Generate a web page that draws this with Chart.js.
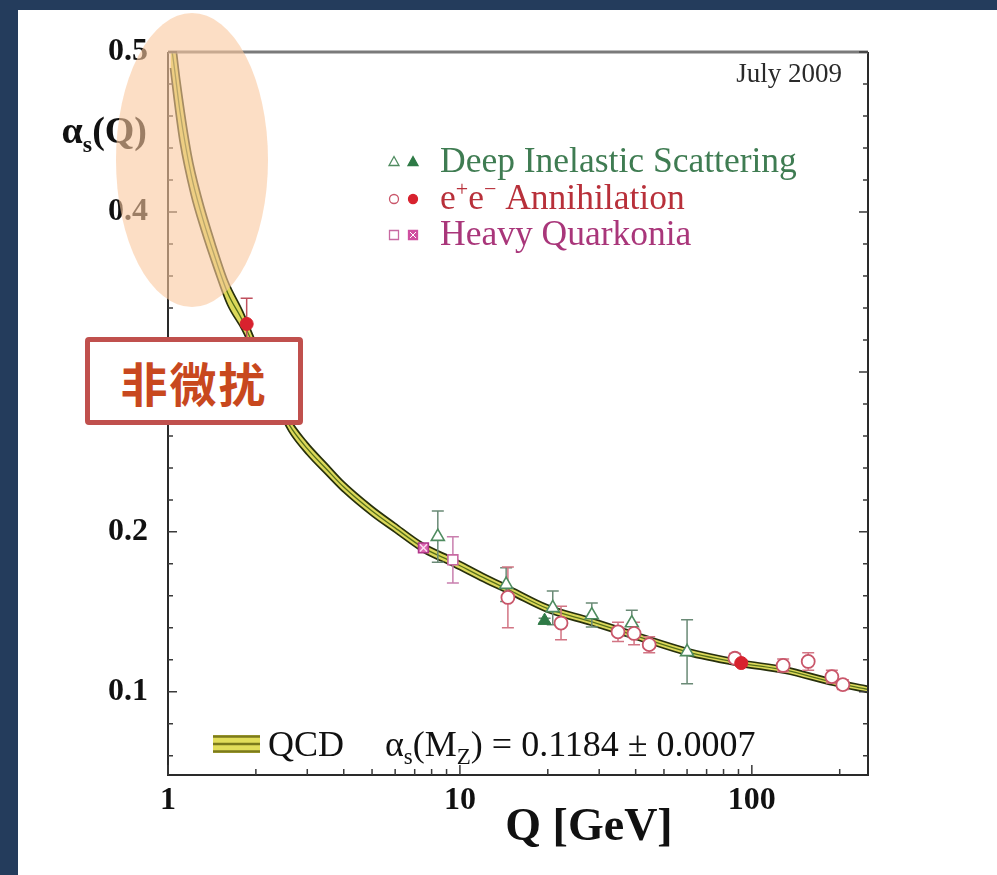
<!DOCTYPE html>
<html>
<head>
<meta charset="utf-8">
<script src="https://cdn.jsdelivr.net/npm/chart.js@4.4.1/dist/chart.umd.min.js"></script>
<style>
  html, body { margin: 0; padding: 0; width: 997px; height: 875px; overflow: hidden; background: #243c5c; }
  #panel { position: absolute; left: 18px; top: 10px; width: 979px; height: 865px; background: #ffffff; }
  #c { position: absolute; left: 0; top: 0; }
  #blob { position: absolute; left: 116px; top: 13px; width: 152px; height: 294px; border-radius: 50%;
          background: rgba(250, 200, 158, 0.6); }
  #tag { position: absolute; left: 85px; top: 337px; width: 208px; height: 78px;
         border: 5px solid #c0504d; border-radius: 4px; background: #ffffff;
         display: flex; align-items: center; justify-content: center;
         font: bold 47px "Noto Sans CJK SC", sans-serif; color: #c8481e; letter-spacing: 2px; }
</style>
</head>
<body>
<div id="panel"></div>
<canvas id="c" width="997" height="875"></canvas>
<div id="blob"></div>
<div id="tag">非微扰</div>
<script>
// QCD running coupling band: centre line and upper / lower edges
const bandQ   = [1.02, 1.05, 1.1, 1.2, 1.3, 1.45, 1.6, 1.8, 2.0, 2.3, 2.6, 3.0, 3.5, 4.0, 5.0, 6.0, 7.5, 9.5, 12, 15, 20, 28, 40, 60, 91.2, 130, 190, 250];
const bandMid = [0.5075, 0.491, 0.4625, 0.4235, 0.399, 0.3715, 0.3495, 0.332, 0.313, 0.287, 0.267, 0.252, 0.239, 0.228, 0.213, 0.2025, 0.190, 0.181, 0.1715, 0.163, 0.152, 0.144, 0.135, 0.125, 0.118, 0.1135, 0.106, 0.1015];
const bandHi  = [0.525, 0.511, 0.481, 0.436, 0.409, 0.380, 0.357, 0.338, 0.3182, 0.2916, 0.2712, 0.2558, 0.2425, 0.2312, 0.216, 0.2053, 0.1927, 0.1836, 0.174, 0.1654, 0.1543, 0.1462, 0.1371, 0.1271, 0.1199, 0.1154, 0.1079, 0.1034];
const bandLo  = [0.490, 0.471, 0.444, 0.411, 0.389, 0.363, 0.342, 0.326, 0.3078, 0.2824, 0.2628, 0.2482, 0.2355, 0.2248, 0.210, 0.1997, 0.1873, 0.1784, 0.169, 0.1606, 0.1497, 0.1418, 0.1329, 0.1229, 0.1161, 0.1116, 0.1041, 0.0996];

// Deep inelastic scattering
const disOpenQ   = [8.4, 14.4, 20.8, 28.3, 38.8, 60];
const disOpenA   = [0.197, 0.167, 0.1525, 0.148, 0.143, 0.125];
const disOpenErr = [0.016, 0.0105, 0.0105, 0.0075, 0.008, 0.02];
const disFullQ   = [19.5];
const disFullA   = [0.1445];
const disFullErr = [0.0015];

// e+e- annihilation
const eeOpenQ   = [14.6, 22.2, 34.8, 39.5, 44.5, 87.5, 128, 156, 188, 205];
const eeOpenA   = [0.159, 0.143, 0.1375, 0.1365, 0.1295, 0.121, 0.1165, 0.119, 0.1095, 0.1045];
const eeOpenErr = [0.019, 0.0105, 0.006, 0.007, 0.005, 0.003, 0.004, 0.0055, 0.004, 0.003];
const eeFullQ     = [1.86, 92];
const eeFullA     = [0.330, 0.118];
const eeFullErrUp = [0.016, 0.002];
const eeFullErrDn = [0.012, 0.002];

// Heavy quarkonia
const hqOpenQ   = [9.46];
const hqOpenA   = [0.1825];
const hqOpenErr = [0.0145];
const hqCrossQ  = [7.5];
const hqCrossA  = [0.190];

// Axis ticks
const xTickValues = [1, 10, 100];
const xTickLabels = ['1', '10', '100'];
const xMinorTicks = [2, 3, 4, 5, 6, 7, 8, 9, 20, 30, 40, 50, 60, 70, 80, 90, 200];
const yTickValues = [0.1, 0.2, 0.3, 0.4, 0.5];
const yTickLabels = ['0.1', '0.2', '0.3', '0.4', '0.5'];
const yMinorTicks = [0.06, 0.08, 0.12, 0.14, 0.16, 0.18, 0.22, 0.24, 0.26, 0.28, 0.32, 0.34, 0.36, 0.38, 0.42, 0.44, 0.46, 0.48];

const SERIF = '"Liberation Serif", "Times New Roman", serif';
const GREEN = '#3f7c52', RED = '#b8303a', MAGENTA = '#a9367a';

const pts = (qs, as) => qs.map((q, i) => ({ x: q, y: as[i] }));

const errorSets = [
  { q: disOpenQ, a: disOpenA, up: disOpenErr, dn: disOpenErr, color: '#6a8a76' },
  { q: disFullQ, a: disFullA, up: disFullErr, dn: disFullErr, color: '#6a8a76' },
  { q: eeOpenQ,  a: eeOpenA,  up: eeOpenErr,  dn: eeOpenErr,  color: '#d27584' },
  { q: eeFullQ,  a: eeFullA,  up: eeFullErrUp, dn: eeFullErrDn, color: '#c0505e' },
  { q: hqOpenQ,  a: hqOpenA,  up: hqOpenErr,  dn: hqOpenErr,  color: '#c97fae' }
];

const IDX_MID = 7;

const datasets = [
  { data: pts(hqCrossQ, hqCrossA), pointStyle: 'crossRot', pointRadius: 5, borderColor: '#fbe0f0', borderWidth: 1.4, backgroundColor: 'transparent' },
  { data: pts(hqCrossQ, hqCrossA), pointStyle: 'rect', pointRadius: 7, backgroundColor: '#dd66b0', borderColor: '#b0388a', borderWidth: 1.5 },
  { data: pts(hqOpenQ, hqOpenA), pointStyle: 'rect', pointRadius: 7, backgroundColor: '#ffffff', borderColor: '#c86aa2', borderWidth: 1.6 },
  { data: pts(eeFullQ, eeFullA), pointStyle: 'circle', pointRadius: 6.5, backgroundColor: '#d8222e', borderColor: '#d8222e', borderWidth: 1 },
  { data: pts(eeOpenQ, eeOpenA), pointStyle: 'circle', pointRadius: 6.5, backgroundColor: '#ffffff', borderColor: '#c9566a', borderWidth: 1.8 },
  { data: pts(disFullQ, disFullA), pointStyle: 'triangle', pointRadius: 7.5, backgroundColor: '#2e7a46', borderColor: '#2e7a46', borderWidth: 1 },
  { data: pts(disOpenQ, disOpenA), pointStyle: 'triangle', pointRadius: 7.5, backgroundColor: '#ffffff', borderColor: '#4f8c60', borderWidth: 1.6 },
  { data: pts(bandQ, bandMid), showLine: true, pointRadius: 0, borderColor: '#56701a', borderWidth: 1.3, cubicInterpolationMode: 'monotone', fill: false },
  { data: pts(bandQ, bandLo), showLine: true, pointRadius: 0, borderColor: '#27300c', borderWidth: 1.7, cubicInterpolationMode: 'monotone', fill: '+1', backgroundColor: '#dcd85a' },
  { data: pts(bandQ, bandHi), showLine: true, pointRadius: 0, borderColor: '#27300c', borderWidth: 1.7, cubicInterpolationMode: 'monotone', fill: false }
];

function drawMarker(ctx, kind, x, y, color, filled) {
  ctx.save();
  ctx.lineWidth = 1.3;
  ctx.strokeStyle = color;
  ctx.fillStyle = filled ? color : '#ffffff';
  ctx.beginPath();
  if (kind === 'tri') {
    ctx.moveTo(x, y - 5.5); ctx.lineTo(x + 5, y + 3.5); ctx.lineTo(x - 5, y + 3.5); ctx.closePath();
  } else if (kind === 'circ') {
    ctx.arc(x, y, 4.5, 0, Math.PI * 2);
  } else {
    ctx.rect(x - 4.5, y - 4.5, 9, 9);
  }
  ctx.fill(); ctx.stroke();
  if (kind === 'sq' && filled) {
    ctx.strokeStyle = '#ffffff';
    ctx.lineWidth = 1;
    ctx.beginPath();
    ctx.moveTo(x - 3, y - 3); ctx.lineTo(x + 3, y + 3);
    ctx.moveTo(x + 3, y - 3); ctx.lineTo(x - 3, y + 3);
    ctx.stroke();
  }
  ctx.restore();
}

// draws consecutive text pieces: [text, font, dy]
function drawRuns(ctx, x, y, runs, color) {
  ctx.fillStyle = color;
  ctx.textAlign = 'left';
  ctx.textBaseline = 'alphabetic';
  let cx = x;
  for (const [t, f, dy] of runs) {
    ctx.font = f;
    ctx.fillText(t, cx, y + (dy || 0));
    cx += ctx.measureText(t).width;
  }
  return cx;
}
function runsWidth(ctx, runs) {
  let w = 0;
  for (const [t, f] of runs) { ctx.font = f; w += ctx.measureText(t).width; }
  return w;
}

const decor = {
  id: 'decor',
  afterDatasetDraw(chart, args) {
    if (args.index !== IDX_MID) return;
    const { ctx, scales: { x, y } } = chart;
    ctx.save();
    ctx.lineWidth = 1.5;
    for (const s of errorSets) {
      ctx.strokeStyle = s.color;
      s.q.forEach((q, i) => {
        const px = x.getPixelForValue(q);
        const yt = y.getPixelForValue(s.a[i] + s.up[i]);
        const yb = y.getPixelForValue(s.a[i] - s.dn[i]);
        ctx.beginPath();
        ctx.moveTo(px, yt); ctx.lineTo(px, yb);
        ctx.moveTo(px - 6, yt); ctx.lineTo(px + 6, yt);
        ctx.moveTo(px - 6, yb); ctx.lineTo(px + 6, yb);
        ctx.stroke();
      });
    }
    ctx.restore();
  },
  afterDraw(chart) {
    const { ctx, chartArea: a, scales: { x, y } } = chart;
    ctx.save();

    // frame
    ctx.strokeStyle = '#2a2a2a';
    ctx.lineWidth = 2;
    ctx.beginPath();
    ctx.moveTo(a.left, a.top); ctx.lineTo(a.left, a.bottom); ctx.lineTo(a.right, a.bottom); ctx.lineTo(a.right, a.top);
    ctx.stroke();
    ctx.strokeStyle = '#7a7a7a';
    ctx.lineWidth = 3;
    ctx.beginPath(); ctx.moveTo(a.left, a.top); ctx.lineTo(a.right, a.top); ctx.stroke();

    // inward tick marks
    ctx.strokeStyle = '#3a3a3a';
    ctx.lineWidth = 1.5;
    ctx.beginPath();
    for (const v of xTickValues) { const px = x.getPixelForValue(v); ctx.moveTo(px, a.bottom); ctx.lineTo(px, a.bottom - 10); }
    for (const v of xMinorTicks) { const px = x.getPixelForValue(v); ctx.moveTo(px, a.bottom); ctx.lineTo(px, a.bottom - 6); }
    for (const v of yTickValues) {
      const py = y.getPixelForValue(v);
      ctx.moveTo(a.left, py); ctx.lineTo(a.left + 9, py);
      ctx.moveTo(a.right, py); ctx.lineTo(a.right - 9, py);
    }
    for (const v of yMinorTicks) {
      const py = y.getPixelForValue(v);
      ctx.moveTo(a.left, py); ctx.lineTo(a.left + 5, py);
      ctx.moveTo(a.right, py); ctx.lineTo(a.right - 5, py);
    }
    ctx.stroke();

    // y axis title  alpha_s(Q)
    const yTitle = [['α', 'bold 38px ' + SERIF, 0], ['s', 'bold 24px ' + SERIF, 9], ['(Q)', 'bold 38px ' + SERIF, 0]];
    drawRuns(ctx, 147 - runsWidth(ctx, yTitle), 143, yTitle, '#111111');

    // x axis title
    ctx.font = 'bold 46px ' + SERIF;
    ctx.fillStyle = '#111111';
    ctx.textAlign = 'center';
    ctx.textBaseline = 'alphabetic';
    ctx.fillText('Q [GeV]', 589, 840);

    // date stamp
    ctx.font = '27px ' + SERIF;
    ctx.fillStyle = '#2a2a2a';
    ctx.textAlign = 'right';
    ctx.fillText('July 2009', 842, 82);

    // key of the measurement classes
    const fKey = '35.5px ' + SERIF;
    drawMarker(ctx, 'tri', 394, 162, '#4f8c60', false);
    drawMarker(ctx, 'tri', 413, 162, '#2e7a46', true);
    drawRuns(ctx, 440, 172, [['Deep Inelastic Scattering', fKey, 0]], GREEN);
    drawMarker(ctx, 'circ', 394, 199, '#c9566a', false);
    drawMarker(ctx, 'circ', 413, 199, '#d8222e', true);
    drawRuns(ctx, 440, 209, [['e', fKey, 0], ['+', '22px ' + SERIF, -13], ['e', fKey, 0], ['−', '22px ' + SERIF, -13], [' Annihilation', fKey, 0]], RED);
    drawMarker(ctx, 'sq', 394, 235, '#c86aa2', false);
    drawMarker(ctx, 'sq', 413, 235, '#cf4fa0', true);
    drawRuns(ctx, 440, 245, [['Heavy Quarkonia', fKey, 0]], MAGENTA);

    // QCD band swatch and world average
    const fNote = '36px ' + SERIF;
    ctx.fillStyle = '#e2de5a';
    ctx.fillRect(213, 735, 47, 18);
    ctx.strokeStyle = '#7b7a1c';
    ctx.lineWidth = 2.4;
    ctx.beginPath();
    for (const yy of [736.5, 744, 751.5]) { ctx.moveTo(213, yy); ctx.lineTo(260, yy); }
    ctx.stroke();
    drawRuns(ctx, 268, 756, [['QCD', fNote, 0]], '#111111');
    drawRuns(ctx, 385, 756, [
      ['α', fNote, 0], ['s', '23px ' + SERIF, 8], ['(M', fNote, 0], ['Z', '23px ' + SERIF, 8],
      [') = 0.1184 ± 0.0007', fNote, 0]
    ], '#111111');

    ctx.restore();
  }
};

new Chart(document.getElementById('c'), {
  type: 'scatter',
  data: { datasets },
  options: {
    responsive: false,
    devicePixelRatio: 1,
    animation: false,
    events: [],
    layout: { padding: { left: 90, right: 129, top: 52, bottom: 0 } },
    plugins: {
      legend: { display: false },
      tooltip: { enabled: false },
      filler: { drawTime: 'beforeDatasetsDraw' }
    },
    scales: {
      x: {
        type: 'logarithmic', min: 1, max: 250,
        afterFit(s) { s.height = 100; },
        afterBuildTicks(s) { s.ticks = xTickValues.map(v => ({ value: v })); },
        grid: { display: false, drawTicks: false },
        border: { display: false },
        ticks: {
          autoSkip: false, maxRotation: 0, padding: 7, color: '#111111',
          font: { family: 'Liberation Serif', size: 32, weight: 'bold' },
          callback: (v, i) => xTickLabels[i]
        }
      },
      y: {
        type: 'linear', min: 0.048, max: 0.5,
        afterFit(s) { s.width = 78; },
        afterBuildTicks(s) { s.ticks = yTickValues.map(v => ({ value: v })); },
        grid: { display: false, drawTicks: false },
        border: { display: false },
        ticks: {
          padding: 20, color: '#111111',
          font: { family: 'Liberation Serif', size: 32, weight: 'bold' },
          callback: (v, i) => yTickLabels[i]
        }
      }
    }
  },
  plugins: [decor]
});
</script>
</body>
</html>
